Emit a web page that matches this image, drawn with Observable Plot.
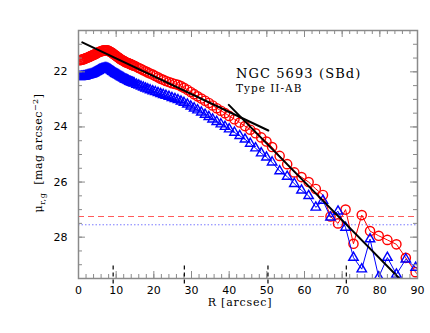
<!DOCTYPE html>
<html><head><meta charset="utf-8">
<script src="https://cdn.jsdelivr.net/npm/d3@7"></script>
<script src="https://cdn.jsdelivr.net/npm/@observablehq/plot@0.6"></script>
<style>body{margin:0;background:#fff} svg{display:block}</style>
</head><body><div id="chart"></div>
<script>
// Radii (arcsec)
const radius = [0.30,0.55,0.80,1.05,1.30,1.55,1.80,2.05,2.30,2.55,2.80,3.05,3.30,3.55,3.80,4.05,4.30,4.55,4.80,5.05,
  5.30,5.55,5.80,6.05,6.30,6.55,6.80,7.05,7.30,7.55,7.80,8.05,8.30,8.55,8.80,9.05,9.30,9.55,9.80,10.05,
  10.30,10.55,10.80,11.05,11.30,11.55,11.80,12.05,12.30,12.55,12.80,13.05,13.30,13.55,13.80,14.05,14.30,14.55,14.80,
  15.4,16.0,16.6,17.2,17.8,18.4,19.0,19.7,20.4,21.1,
  21.8,22.5,23.2,24.0,24.8,25.6,26.4,27.2,28.0,28.9,29.8,30.7,31.6,32.6,33.6,34.6,35.6,36.7,37.8,38.9,
  40.0,41.4,42.8,44.2,45.6,47.0,48.5,49.9,51.4,53.4,55.4,57.3,59.2,61.1,63.0,64.9,66.9,68.9,70.9,73.0,
  75.2,77.4,79.7,82.0,84.4,86.9,89.5,92.1];
// r-band profile (red circles)
const muRed = [21.58,21.57,21.56,21.55,21.54,21.53,21.52,21.50,21.49,21.47,
  21.46,21.44,21.43,21.41,21.40,21.38,21.36,21.35,21.33,21.31,
  21.29,21.27,21.26,21.25,21.24,21.23,21.22,21.22,21.22,21.22,
  21.23,21.24,21.26,21.28,21.30,21.33,21.35,21.38,21.40,21.43,
  21.45,21.48,21.50,21.53,21.55,21.57,21.59,21.61,21.63,21.65,
  21.66,21.68,21.69,21.71,21.72,21.74,21.75,21.77,21.78,
  21.82,21.86,21.90,21.94,21.98,22.02,22.06,22.10,22.15,22.20,
  22.25,22.29,22.33,22.37,22.41,22.44,22.47,22.52,22.58,22.65,22.73,22.81,22.89,22.97,23.05,23.13,23.22,23.32,23.41,23.50,
  23.60,23.72,23.84,23.97,24.10,24.23,24.38,24.53,24.73,25.05,25.35,25.65,25.82,26.00,26.25,26.47,27.25,27.50,27.00,28.24,
  27.20,27.78,27.95,28.10,28.26,28.75,29.27,29.65];
// g-band profile (blue triangles)
const muBlue = [22.18,22.18,22.17,22.17,22.16,22.16,22.15,22.14,22.13,22.12,
  22.11,22.10,22.09,22.08,22.06,22.05,22.03,22.01,21.99,21.97,
  21.95,21.93,21.92,21.90,21.89,21.88,21.87,21.86,21.86,21.87,
  21.88,21.90,21.92,21.94,21.96,21.99,22.01,22.04,22.06,22.08,
  22.10,22.12,22.14,22.16,22.18,22.20,22.22,22.24,22.26,22.28,
  22.29,22.31,22.33,22.35,22.36,22.38,22.39,22.41,22.42,
  22.46,22.49,22.53,22.56,22.60,22.63,22.66,22.70,22.73,22.76,
  22.80,22.83,22.86,22.90,22.94,22.98,23.02,23.07,23.12,23.18,23.25,23.32,23.39,23.47,23.55,23.63,23.72,23.81,23.90,23.99,
  24.08,24.20,24.32,24.45,24.60,24.77,24.95,25.10,25.28,25.60,25.80,26.06,26.30,26.50,26.92,26.67,27.28,27.06,27.65,28.74,
  29.16,28.07,29.45,28.74,29.35,28.80,29.10,29.30];
// exponential fits
const fitInnerR = [1.0, 50.4];
const fitInnerMu = [20.93, 24.13];
const fitOuterR = [39.9, 86.5];
const fitOuterMu = [23.2, 29.68];
// sky limits
const skyRed = [27.25];
const skyBlue = [27.55];
// break markers on axis
const breakR = [9.2, 28.1, 50.3, 71.1];
// ticks
const xTicks = [0,10,20,30,40,50,60,70,80,90];
const yTicks = [22,24,26,28];
const xMinor = d3.range(2, 90, 2);
const yMinor = d3.range(21, 29.5, 0.5);

const red = radius.map((r, i) => ({r, mu: muRed[i]}));
const blue = radius.map((r, i) => ({r, mu: muBlue[i]}));
const fitIn = fitInnerR.map((r, i) => ({r, mu: fitInnerMu[i]}));
const fitOut = fitOuterR.map((r, i) => ({r, mu: fitOuterMu[i]}));

const X0 = 0, X1 = 90, Y0 = 20.5, Y1 = 29.5;
const kx = 340 / 90, ky = 248 / 9;
const minorX = 4 / kx, majorX = 7 / kx, minorY = 4 / ky, majorY = 7 / ky;
const axisCol = "#8a8a8a";

const chart = Plot.plot({
  width: 430, height: 333,
  marginLeft: 78, marginRight: 13, marginTop: 30, marginBottom: 55,
  x: {domain: [X0, X1], axis: null},
  y: {domain: [Y0, Y1], reverse: true, axis: null},
  style: {background: "white", fontFamily: "DejaVu Sans", fontSize: "11px", color: "black"},
  marks: [
    Plot.ruleY(skyRed, {stroke: "#ff5a5a", strokeWidth: 1, strokeDasharray: "6,4"}),
    Plot.ruleY(skyBlue, {stroke: "#7a7aff", strokeWidth: 1, strokeDasharray: "1.5,2"}),
    Plot.line(red, {x: "r", y: "mu", stroke: "#ff0000", strokeWidth: 1, clip: true}),
    Plot.dot(red, {x: "r", y: "mu", r: 4.6, stroke: "#ff0000", strokeWidth: 1.4, fill: "none", clip: true}),
    Plot.line(blue, {x: "r", y: "mu", stroke: "#0000ff", strokeWidth: 1, clip: true}),
    Plot.dot(blue, {x: "r", y: "mu", symbol: "triangle", r: 3.5, stroke: "#0000ff", strokeWidth: 1.4, fill: "none", clip: true}),
    Plot.line(fitIn, {x: "r", y: "mu", stroke: "black", strokeWidth: 2, clip: true}),
    Plot.line(fitOut, {x: "r", y: "mu", stroke: "black", strokeWidth: 2, clip: true}),
    // frame and inward ticks
    Plot.frame({stroke: axisCol, strokeWidth: 1.5}),
    Plot.ruleX(xMinor, {y1: Y1, y2: Y1 - minorY, stroke: axisCol}),
    Plot.ruleX(xTicks.slice(1, -1), {y1: Y1, y2: Y1 - majorY, stroke: axisCol}),
    Plot.ruleX(xMinor, {y1: Y0, y2: Y0 + minorY, stroke: axisCol}),
    Plot.ruleX(xTicks.slice(1, -1), {y1: Y0, y2: Y0 + majorY, stroke: axisCol}),
    Plot.ruleY(yMinor, {x1: X0, x2: X0 + minorX, stroke: axisCol}),
    Plot.ruleY(yTicks, {x1: X0, x2: X0 + majorX, stroke: axisCol}),
    Plot.ruleY(yMinor, {x1: X1, x2: X1 - minorX, stroke: axisCol}),
    Plot.ruleY(yTicks, {x1: X1, x2: X1 - majorX, stroke: axisCol}),
    Plot.ruleX(breakR, {y1: 29.05, y2: 29.8, stroke: "black", strokeWidth: 1.2, strokeDasharray: "4,3"}),
    // tick labels
    Plot.text(xTicks, {x: d => d, y: Y1, dy: 12, text: d => String(d), textAnchor: "middle", lineAnchor: "middle", fontSize: 11}),
    Plot.text(yTicks, {x: X0, y: d => d, dx: -11, text: d => String(d), textAnchor: "end", lineAnchor: "middle", fontSize: 11})
  ]
});

const svg = d3.select(chart);
svg.append("text").attr("x", 240).attr("y", 306).attr("text-anchor", "middle").attr("letter-spacing", 0.8)
  .attr("font-family", "DejaVu Serif").attr("font-size", 11).attr("fill", "black").text("R [arcsec]");
svg.append("text").attr("x", 236).attr("y", 78).attr("text-anchor", "start").attr("letter-spacing", 1.1)
  .attr("font-family", "DejaVu Serif").attr("font-size", 13).attr("fill", "black").text("NGC 5693 (SBd)");
svg.append("text").attr("x", 236).attr("y", 92).attr("text-anchor", "start").attr("letter-spacing", 1)
  .attr("font-family", "DejaVu Serif").attr("font-size", 10.5).attr("fill", "black").text("Type II-AB");
const yl = svg.append("text").attr("transform", "translate(42,153) rotate(-90)").attr("text-anchor", "middle")
  .attr("letter-spacing", 0.5)
  .attr("font-family", "DejaVu Serif").attr("font-size", 11).attr("fill", "black");
yl.append("tspan").text("μ");
yl.append("tspan").attr("dy", 3).attr("font-size", 8).text("r,g");
yl.append("tspan").attr("dy", -3).text("  [mag arcsec");
yl.append("tspan").attr("dy", -4).attr("font-size", 8).text("−2");
yl.append("tspan").attr("dy", 4).text("]");

document.getElementById("chart").appendChild(chart);
</script>
</body></html>
